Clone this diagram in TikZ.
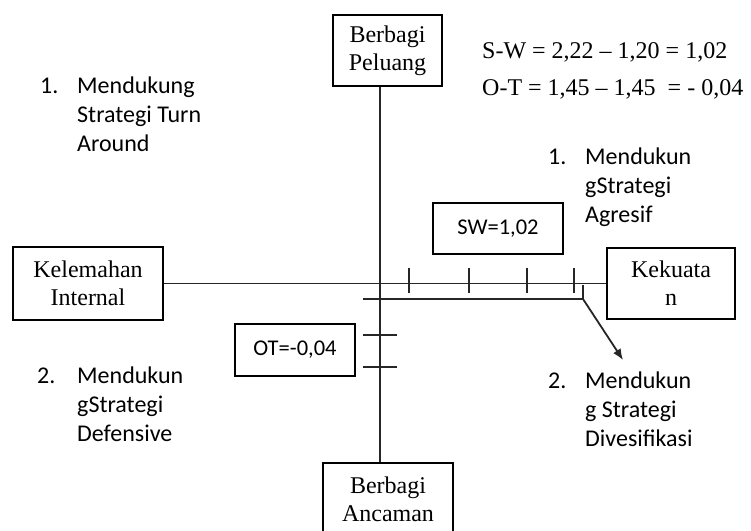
\documentclass[tikz,border=0pt]{standalone}
\usepackage{fontspec}
\setmainfont{Liberation Serif}
\newfontfamily\calibri{Carlito}
\usetikzlibrary{arrows.meta}

\begin{document}
\begin{tikzpicture}[x=1pt,y=-1pt,
   kotak/.style={draw,line width=1.8pt,inner sep=0pt,align=center,font=\fontsize{24}{28}\selectfont},
   nilai/.style={draw,line width=1.6pt,inner sep=0pt,font=\calibri\fontsize{22.5}{27}\selectfont},
   teks/.style={anchor=base west,inner sep=0pt,align=left,font=\calibri\fontsize{24}{29}\selectfont},
   rumus/.style={anchor=base west,inner sep=0pt,font=\fontsize{24}{29}\selectfont},
   garis/.style={line width=1.8pt,black!85}]
   \useasboundingbox (0,0) rectangle (751,530);

   \node[kotak,minimum width=109,minimum height=71] (peluang) at (387.5,50.5) {Berbagi\\Peluang};
   \node[kotak,minimum width=130,minimum height=72] (ancaman) at (388,499) {Berbagi\\Ancaman};
   \node[kotak,minimum width=150,minimum height=73] (kelemahan) at (88,283.5) {Kelemahan\\Internal};
   \node[kotak,minimum width=128,minimum height=71] (kekuatan) at (671,283.5) {Kekuata\\n};

   \node[nilai,minimum width=130,minimum height=51] (sw) at (498,228.5) {SW=1,02};
   \node[nilai,minimum width=120,minimum height=52] (ot) at (295,350) {OT=-0,04};

   \node[rumus] (rumus1) at (482,58) {S-W = 2,22 – 1,20 = 1,02};
   \node[rumus] (rumus2) at (482,95) {O-T = 1,45 – 1,45 \ = - 0,04};

   % kuadran (base = baris terakhir)
   \node[teks] (n1) at (40,93) {1.};
   \node[teks] (k1) at (77,151) {Mendukung\\Strategi Turn\\Around};
   \node[teks] (n2) at (548,164) {1.};
   \node[teks] (k2) at (585,222) {Mendukun\\gStrategi\\Agresif};
   \node[teks] (n3) at (37,383) {2.};
   \node[teks] (k3) at (77,441) {Mendukun\\gStrategi\\Defensive};
   \node[teks] (n4) at (548,388) {2.};
   \node[teks] (k4) at (585,446) {Mendukun\\g Strategi\\Divesifikasi};

   \coordinate (o) at (380,282);
   \coordinate (titik) at (583,299);
   \coordinate (ujung) at (623,360);

   % sumbu
   \draw[garis] (o |- peluang.south) -- (o |- ancaman.north);
   \draw[garis] (kelemahan.east) -- (kekuatan.west);
   \foreach \x in {409,469,527,574}
      \draw[garis] (\x,268) -- (\x,293);
   \foreach \y in {299,335,367}
      \draw[garis] (363,\y) -- (397,\y);

   \draw[garis] (o |- titik) -- (titik);
   \draw[garis] (titik) -- ++(0,-14);
   \draw[garis,-{Latex[length=11pt,width=9pt]}] (titik) -- (ujung);

\end{tikzpicture}
\end{document}
